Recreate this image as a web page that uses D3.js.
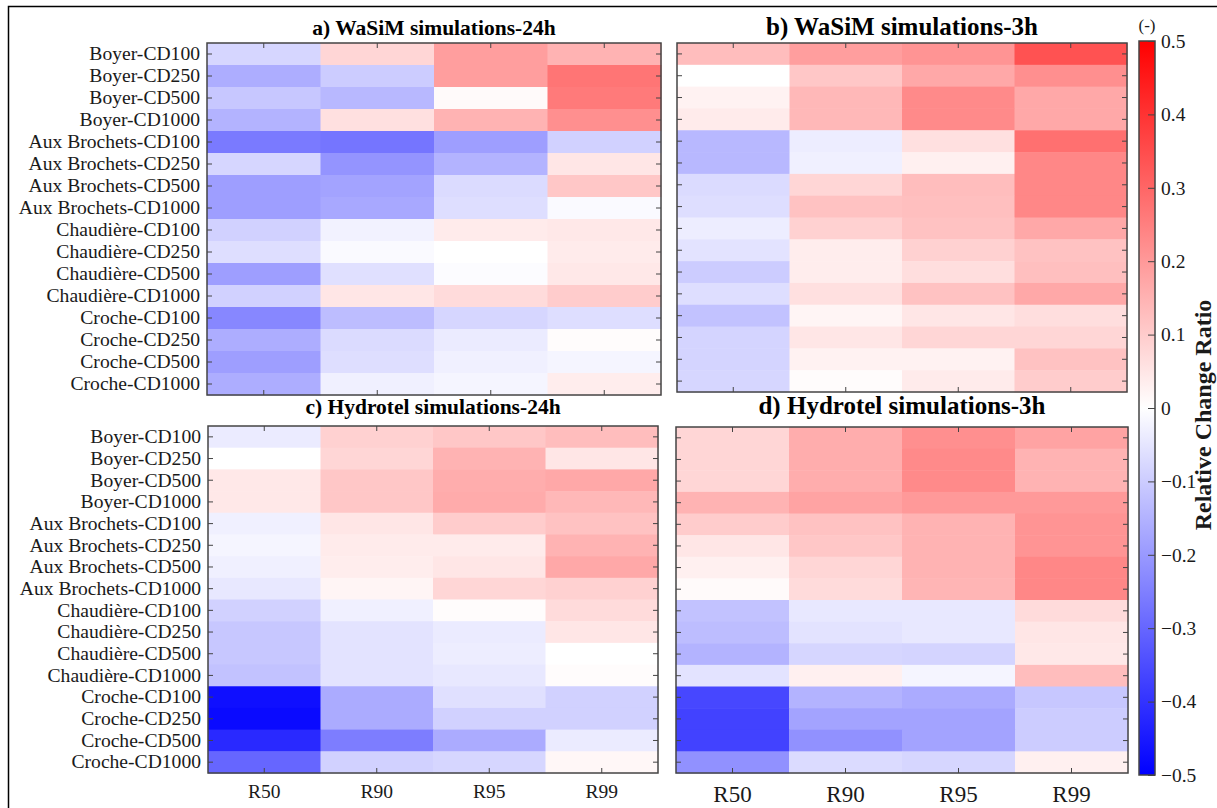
<!DOCTYPE html>
<html>
<head>
<meta charset="utf-8">
<script src="https://cdn.jsdelivr.net/npm/d3@7"></script>
<style>
  html, body { margin: 0; padding: 0; background: #fff; }
  svg { display: block; }
  svg text { font-family: "Liberation Serif", "Times New Roman", serif; }
</style>
</head>
<body>
<svg id="chart" width="1217" height="808"></svg>
<script>
// Catchments and critical durations (rows) and runoff indices (columns)
const rowLabels = [
  "Boyer-CD100", "Boyer-CD250", "Boyer-CD500", "Boyer-CD1000",
  "Aux Brochets-CD100", "Aux Brochets-CD250", "Aux Brochets-CD500", "Aux Brochets-CD1000",
  "Chaudière-CD100", "Chaudière-CD250", "Chaudière-CD500", "Chaudière-CD1000",
  "Croche-CD100", "Croche-CD250", "Croche-CD500", "Croche-CD1000"
];
const colLabels = ["R50", "R90", "R95", "R99"];

// Relative change ratio, one row per catchment/duration: [R50, R90, R95, R99]
const wasim24h = [
  [-0.08, 0.08, 0.19, 0.15],
  [-0.16, -0.10, 0.19, 0.27],
  [-0.11, -0.14, 0.01, 0.26],
  [-0.15, 0.06, 0.15, 0.22],
  [-0.26, -0.27, -0.19, -0.09],
  [-0.08, -0.21, -0.15, 0.05],
  [-0.19, -0.18, -0.07, 0.11],
  [-0.19, -0.17, -0.065, -0.01],
  [-0.09, -0.025, 0.04, 0.045],
  [-0.065, -0.01, 0.0, 0.04],
  [-0.19, -0.06, -0.005, 0.045],
  [-0.09, 0.05, 0.07, 0.10],
  [-0.235, -0.13, -0.08, -0.065],
  [-0.16, -0.07, -0.04, 0.005],
  [-0.19, -0.065, -0.03, -0.02],
  [-0.16, -0.03, -0.02, 0.035]
];
const wasim3h = [
  [0.13, 0.19, 0.21, 0.34],
  [0.0, 0.11, 0.17, 0.22],
  [0.025, 0.14, 0.23, 0.17],
  [0.04, 0.14, 0.23, 0.17],
  [-0.14, -0.035, 0.06, 0.28],
  [-0.14, -0.03, 0.03, 0.235],
  [-0.07, 0.08, 0.13, 0.235],
  [-0.065, 0.12, 0.125, 0.235],
  [-0.035, 0.09, 0.12, 0.17],
  [-0.055, 0.035, 0.09, 0.12],
  [-0.10, 0.035, 0.065, 0.125],
  [-0.065, 0.06, 0.12, 0.17],
  [-0.12, 0.02, 0.05, 0.065],
  [-0.085, 0.05, 0.08, 0.08],
  [-0.085, 0.025, 0.025, 0.12],
  [-0.08, 0.005, 0.04, 0.10]
];
const hydrotel24h = [
  [-0.04, 0.09, 0.11, 0.13],
  [0.0, 0.08, 0.15, 0.05],
  [0.045, 0.11, 0.16, 0.17],
  [0.045, 0.11, 0.165, 0.14],
  [-0.03, 0.05, 0.10, 0.12],
  [-0.02, 0.04, 0.04, 0.15],
  [-0.03, 0.035, 0.05, 0.17],
  [-0.045, 0.02, 0.08, 0.09],
  [-0.09, -0.03, 0.005, 0.07],
  [-0.11, -0.055, -0.04, 0.05],
  [-0.11, -0.055, -0.035, 0.0],
  [-0.12, -0.055, -0.045, 0.005],
  [-0.47, -0.165, -0.06, -0.09],
  [-0.48, -0.165, -0.09, -0.09],
  [-0.42, -0.255, -0.165, -0.04],
  [-0.30, -0.09, -0.08, 0.015]
];
const hydrotel3h = [
  [0.08, 0.16, 0.22, 0.18],
  [0.08, 0.16, 0.23, 0.15],
  [0.08, 0.16, 0.23, 0.15],
  [0.15, 0.18, 0.20, 0.20],
  [0.10, 0.12, 0.15, 0.21],
  [0.05, 0.11, 0.15, 0.21],
  [0.03, 0.08, 0.15, 0.235],
  [0.01, 0.07, 0.145, 0.235],
  [-0.12, -0.045, -0.045, 0.07],
  [-0.13, -0.055, -0.045, 0.05],
  [-0.15, -0.08, -0.085, 0.045],
  [-0.055, 0.03, -0.02, 0.13],
  [-0.36, -0.15, -0.165, -0.11],
  [-0.37, -0.18, -0.18, -0.10],
  [-0.37, -0.215, -0.18, -0.10],
  [-0.215, -0.07, -0.08, 0.03]
];
const colorTicks = [-0.5, -0.4, -0.3, -0.2, -0.1, 0, 0.1, 0.2, 0.3, 0.4, 0.5];

const panels = [
  { title: "a) WaSiM simulations-24h", data: wasim24h, x0: 207, x1: 661, y0: 43, y1: 395,
    titleSize: 21.5, titleY: 35, showRows: true, showCols: false },
  { title: "b) WaSiM simulations-3h", data: wasim3h, x0: 677, x1: 1127, y0: 43, y1: 392,
    titleSize: 25, titleY: 35, showRows: false, showCols: false },
  { title: "c) Hydrotel simulations-24h", data: hydrotel24h, x0: 208, x1: 658, y0: 426, y1: 773,
    titleSize: 21.5, titleY: 414, showRows: true, showCols: true, colSize: 19.5, colY: 798 },
  { title: "d) Hydrotel simulations-3h", data: hydrotel3h, x0: 676, x1: 1128, y0: 427, y1: 773,
    titleSize: 25, titleY: 414, showRows: false, showCols: true, colSize: 23, colY: 802 }
];

const svg = d3.select("#chart");
const color = d3.scaleLinear()
  .domain([-0.5, 0, 0.5])
  .range(["#0000ff", "#ffffff", "#ff0000"])
  .clamp(true);

const axisColor = "#444";
const textColor = "#1a1a1a";
const tickLen = 5;

// Outer frame
svg.append("rect")
  .attr("x", 8.5).attr("y", 6.5)
  .attr("width", 1400).attr("height", 1000)
  .attr("fill", "none").attr("stroke", "#000").attr("stroke-width", 1.5);

panels.forEach(p => {
  const g = svg.append("g");
  const x = d3.scaleBand().domain(colLabels).range([p.x0, p.x1]);
  const y = d3.scaleBand().domain(rowLabels).range([p.y0, p.y1]);

  const cells = [];
  p.data.forEach((row, i) => row.forEach((v, j) => cells.push({ r: rowLabels[i], c: colLabels[j], v })));

  g.selectAll("rect.cell").data(cells).join("rect")
    .attr("class", "cell")
    .attr("x", d => x(d.c))
    .attr("y", d => y(d.r))
    .attr("width", x.bandwidth() + 0.5)
    .attr("height", y.bandwidth() + 0.5)
    .attr("fill", d => color(d.v));

  // Inward ticks on all four sides
  const axL = d3.axisLeft(y).tickSizeInner(-tickLen).tickSizeOuter(0).tickPadding(7);
  const axR = d3.axisRight(y).tickSizeInner(-tickLen).tickSizeOuter(0).tickFormat("");
  const axT = d3.axisTop(x).tickSizeInner(-tickLen).tickSizeOuter(0).tickFormat("");
  const axB = d3.axisBottom(x).tickSizeInner(-tickLen).tickSizeOuter(0);

  const gl = g.append("g").attr("transform", `translate(${p.x0},0)`).call(axL);
  if (!p.showRows) gl.selectAll("text").remove();
  g.append("g").attr("transform", `translate(${p.x1},0)`).call(axR);
  g.append("g").attr("transform", `translate(0,${p.y0})`).call(axT);
  const gb = g.append("g").attr("transform", `translate(0,${p.y1})`).call(axB);
  if (!p.showCols) gb.selectAll("text").remove();

  g.selectAll("g").attr("font-family", null).attr("font-size", null);
  g.selectAll(".domain").remove();
  g.selectAll(".tick line").attr("stroke", axisColor);
  gl.selectAll("text").style("font-size", "19.6px").attr("fill", textColor);
  gb.selectAll("text")
    .attr("dy", null)
    .attr("y", p.colY ? p.colY - p.y1 : 0)
    .style("font-size", (p.colSize || 19) + "px")
    .attr("fill", textColor);

  g.append("rect")
    .attr("x", p.x0).attr("y", p.y0)
    .attr("width", p.x1 - p.x0).attr("height", p.y1 - p.y0)
    .attr("fill", "none").attr("stroke", axisColor).attr("stroke-width", 1.5);

  g.append("text")
    .attr("x", (p.x0 + p.x1) / 2)
    .attr("y", p.titleY)
    .attr("text-anchor", "middle")
    .attr("font-weight", "bold")
    .style("font-size", p.titleSize + "px")
    .attr("fill", "#000")
    .text(p.title);
});

// Colour bar
const cb = { x0: 1139, x1: 1155, y0: 41, y1: 775 };
const cy = d3.scaleLinear().domain([-0.5, 0.5]).range([cb.y1, cb.y0]);
const defs = svg.append("defs");
const grad = defs.append("linearGradient").attr("id", "cbar")
  .attr("x1", 0).attr("y1", 1).attr("x2", 0).attr("y2", 0);
grad.selectAll("stop").data(colorTicks).join("stop")
  .attr("offset", d => (d + 0.5))
  .attr("stop-color", d => color(d));

const cg = svg.append("g");
cg.append("rect")
  .attr("x", cb.x0).attr("y", cb.y0)
  .attr("width", cb.x1 - cb.x0).attr("height", cb.y1 - cb.y0)
  .attr("fill", "url(#cbar)");

const cax = d3.axisRight(cy).tickValues(colorTicks)
  .tickFormat(d => d === 0 ? "0" : d3.format(".1f")(d))
  .tickSizeInner(-7).tickSizeOuter(0).tickPadding(6);
const cag = cg.append("g").attr("transform", `translate(${cb.x1},0)`).call(cax);
cag.attr("font-family", null).attr("font-size", null);
cag.select(".domain").remove();
cag.selectAll(".tick line").attr("stroke", axisColor);
cag.selectAll("text").style("font-size", "19.5px").attr("fill", textColor);

cg.append("rect")
  .attr("x", cb.x0).attr("y", cb.y0)
  .attr("width", cb.x1 - cb.x0).attr("height", cb.y1 - cb.y0)
  .attr("fill", "none").attr("stroke", axisColor).attr("stroke-width", 1.5);

cg.append("text")
  .attr("x", (cb.x0 + cb.x1) / 2)
  .attr("y", 31)
  .attr("text-anchor", "middle")
  .style("font-size", "17px")
  .attr("fill", textColor)
  .text("(-)");

cg.append("text")
  .attr("transform", `translate(1211,415) rotate(-90)`)
  .attr("text-anchor", "middle")
  .attr("font-weight", "bold")
  .style("font-size", "24px")
  .attr("fill", textColor)
  .text("Relative Change Ratio");
</script>
</body>
</html>
